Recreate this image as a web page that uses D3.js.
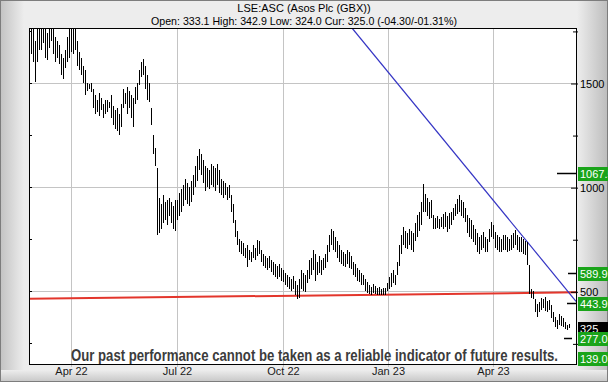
<!DOCTYPE html>
<html lang="en">
<head>
<meta charset="utf-8">
<title>LSE:ASC</title>
<script src="https://cdn.jsdelivr.net/npm/d3@7"></script>
<style>
  body { margin: 0; background: #fff; }
  text { font-family: "Liberation Sans", Arial, sans-serif; }
</style>
</head>
<body>
<script>
// daily high / low, one entry per trading day (bar index 0 .. 269)
var highs = [
  1820,1760,1700,1790,1850, 1800,1780,1760,1740,1790,1810,1760,1720,
  1700,1680,1640,1620,1660, 1720,1770,1800,1780,1800, 1700,1650,1620,1580,
  1560,1500,1495,1500, 1470,1440,1420,1450,1430,1400,1420,
  1420,1410,1440,1390,1370,1380,1350,1400, 1470,1450,1480,1460,1440,1430,
  1480,1500, 1560,1600,1615,1580, 1540,1500, 1380, 1250,1190, 1090,
  950,920,960,930,940,950,930,910,940, 940,970,990, 1010,1040,1020,1000,1030,
  1060,1100,1150,1184,1160, 1130,1100,1090,1080,1110,1100,1090,1110,1080,
  1040,1030,1020,1000,1010, 960,920, 840,790, 750,740,730,710,720,
  700,690,720,710,745,740, 700,680,670,660,670,650, 640,630,620,630,610,600,
  590,580,570,560,575,550,530, 560,600,590,580, 600,650,660,700,680,
  640,670,650,660,680, 720,770,800, 790,760,740,720, 700,690,680,700,690,670,
  640,630,610,600,590,580, 560,545,530,520,535,525, 515,519,510,518,516,
  540,570,590,601,580, 640,720,769, 808,790,780,800, 790,780,830,
  865,880,928, 1014, 966,950,930,940, 865,850,860,845,855, 870,880,860,875,880,
  900,920,942,962, 940,928,900, 865,850,840,820, 798,780,760, 770,784,760,750,
  800,832,820, 784,770,760,750,770, 769,760,750, 770,780,793,770,760,
  760,750,740, 736, 625, 510,500, 461,440, 450,470,465,471,455,460,
  433,400, 375,360,389, 380,370, 351,340,342.9
];
var lows = [
  1640,1600,1505,1600,1660, 1660,1690,1620,1610,1670,1700,1640,1600,
  1620,1590,1540,1520,1570, 1600,1620,1650,1640,1660, 1580,1560,1540,1500,
  1440,1460,1470,1455, 1380,1350,1360,1340,1370,1330,1350,
  1360,1380,1330,1300,1280,1270,1250,1290, 1380,1400,1350,1380,1330,1290,
  1400,1420, 1490,1530,1540,1470, 1420,1410, 1300, 1160,1100, 770,
  780,800,830,840,820,860,830,800,790, 840,860,880, 910,940,920,910,930,
  960,1000,1030,1080,1060, 1020,980,1000,990,1010,1000,980,1010,970,
  960,950,960,940,950, 880,830, 760,720, 690,680,670,660,615,
  650,640,660,650,670,680, 640,620,610,600,610,595, 580,570,560,570,550,545,
  530,520,510,500,510,480,461, 470,510,500,495, 540,560,580,600,550,
  580,590,580,600,610, 640,690,720, 700,690,660,640, 630,620,615,630,610,606,
  580,570,550,545,530,529, 500,490,485,481,490,485, 482,480,484,481,480,
  500,510,520,540,530, 577,620,680, 720,710,702,720, 700,687,740,
  760,790,820, 880, 880,860,846,850, 800,798,805,800,810, 800,810,784,800,820,
  840,860,870,880, 860,850,832, 780,760,750,736, 720,690,678, 700,710,690,687,
  736,760,750, 710,700,690,687,700, 700,690,695, 700,710,720,700,687,
  690,680,673, 625, 486, 470,461, 400,375, 400,410,420,405,399,410,
  370,351, 330,317,340, 335,327, 320,312,324
];

var tickLabels = ["Apr 22", "Jul 22", "Oct 22", "Jan 23", "Apr 23"];
var tickIndex = [20, 73, 126, 178.5, 231];

var priceTicks = [250, 500, 750, 1000, 1250, 1500, 1750];
var priceLabels = [500, 1000, 1500];

// target levels shown in the right margin
var targetValues = [1067.5, 589.9, 443.9, 325.0, 277.0, 139.0];
var targetKinds = ["green", "green", "green", "current", "green", "green"];

// trend lines as [bar index, price]
var blueLine = [[160.5, 1764], [272.5, 452]];
var redLine = [[-1, 464], [273, 495]];

var title = "LSE:ASC (Asos Plc (GBX))";
var quote = "Open: 333.1 High: 342.9 Low: 324.0 Cur: 325.0 (-04.30/-01.31%)";
var disclaimer = "Our past performance cannot be taken as a reliable indicator of future results.";

var w = 608, h = 382;
var plotL = 29, plotR = 577, plotT = 28, plotB = 364;

var svg = d3.select("body").append("svg")
  .attr("width", w).attr("height", h);

var defs = svg.append("defs");
function grad(id, x2, y2, c0, c1) {
  var g = defs.append("linearGradient").attr("id", id)
    .attr("x1", 0).attr("y1", 0).attr("x2", x2).attr("y2", y2);
  g.append("stop").attr("offset", "0%").attr("stop-color", c0);
  g.append("stop").attr("offset", "100%").attr("stop-color", c1);
}
grad("gLeft", 1, 0, "#c2c2c2", "#ededed");
grad("gRight", 1, 0, "#ededed", "#bcbcbc");
grad("gBottom", 0, 1, "#ededed", "#c6c6c6");

// background frame
svg.append("rect").attr("width", w).attr("height", h).attr("fill", "#ededed");
svg.append("rect").attr("x", 0).attr("y", 0).attr("width", 24).attr("height", h).attr("fill", "url(#gLeft)");
svg.append("rect").attr("x", plotR).attr("y", 0).attr("width", w - plotR).attr("height", h).attr("fill", "url(#gRight)");
svg.append("rect").attr("x", 0).attr("y", 370).attr("width", w).attr("height", 12).attr("fill", "url(#gBottom)");
svg.append("rect").attr("x", 0.5).attr("y", 0.5).attr("width", w - 1).attr("height", h - 1)
  .attr("fill", "none").attr("stroke", "#7d7d7d");

// plot area
svg.append("rect").attr("x", plotL).attr("y", plotT)
  .attr("width", plotR - plotL).attr("height", plotB - plotT).attr("fill", "#fff");

var x = d3.scaleLinear().domain([-1, 273]).range([plotL, plotR]);
var y = d3.scaleLinear().domain([151, 1764]).range([plotB, plotT]);

defs.append("clipPath").attr("id", "plot")
  .append("rect").attr("x", plotL).attr("y", plotT)
  .attr("width", plotR - plotL).attr("height", plotB - plotT);

// grid
var grid = svg.append("g");
grid.selectAll("line.h").data(priceLabels).enter().append("line")
  .attr("x1", plotL).attr("x2", plotR)
  .attr("y1", function(d) { return Math.round(y(d)) + 0.5; })
  .attr("y2", function(d) { return Math.round(y(d)) + 0.5; })
  .attr("stroke", "#c4c4c4");
grid.selectAll("line.v").data(tickIndex).enter().append("line")
  .attr("x1", function(d) { return Math.round(x(d)) + 0.5; })
  .attr("x2", function(d) { return Math.round(x(d)) + 0.5; })
  .attr("y1", plotT).attr("y2", plotB + 3)
  .attr("stroke", "#c4c4c4");

// trend lines
var lineGen = d3.line()
  .x(function(d) { return x(d[0]); })
  .y(function(d) { return y(d[1]); });
var trends = svg.append("g").attr("clip-path", "url(#plot)");
trends.append("path").datum(redLine).attr("d", lineGen)
  .attr("fill", "none").attr("stroke", "#e3362c").attr("stroke-width", 2);

// price bars
var data = highs.map(function(hv, i) { return { i: i, high: hv, low: lows[i] }; });
var bars = svg.append("g").attr("clip-path", "url(#plot)");
bars.selectAll("line").data(data).enter().append("line")
  .attr("x1", function(d) { return Math.round(x(d.i)) + 0.5; })
  .attr("x2", function(d) { return Math.round(x(d.i)) + 0.5; })
  .attr("y1", function(d) { return y(d.high); })
  .attr("y2", function(d) { return Math.max(y(d.low), y(d.high) + 1.5); })
  .attr("stroke", "#000").attr("stroke-width", 1)
  .attr("shape-rendering", "crispEdges");

trends.append("path").datum(blueLine).attr("d", lineGen)
  .attr("fill", "none").attr("stroke", "#3434c4").attr("stroke-width", 1.2);

// disclaimer
svg.append("text")
  .attr("x", 71).attr("y", 361)
  .attr("textLength", 487).attr("lengthAdjust", "spacingAndGlyphs")
  .style("font-family", "'Liberation Sans Narrow', 'Liberation Sans', Arial, sans-serif")
  .style("font-weight", "bold").style("font-size", "16px")
  .attr("fill", "#3c3c3c")
  .text(disclaimer);

// plot frame
svg.append("rect").attr("x", plotL + 0.5).attr("y", plotT + 0.5)
  .attr("width", plotR - plotL - 1).attr("height", plotB - plotT)
  .attr("fill", "none").attr("stroke", "#000");

// left ticks
svg.append("g").selectAll("line").data(priceTicks).enter().append("line")
  .attr("x1", plotL).attr("x2", plotL + 3)
  .attr("y1", function(d) { return Math.round(y(d)) + 0.5; })
  .attr("y2", function(d) { return Math.round(y(d)) + 0.5; })
  .attr("stroke", "#000");

// right axis
var yAxis = d3.axisRight(y)
  .tickValues(priceTicks)
  .tickSize(2)
  .tickFormat(function(d) { return priceLabels.indexOf(d) >= 0 ? d : ""; });
var ax = svg.append("g")
  .attr("transform", "translate(" + (plotR - 1) + ",0.5)")
  .call(yAxis);
ax.select(".domain").remove();
ax.selectAll(".tick line")
  .attr("x1", function(d) { return priceLabels.indexOf(d) >= 0 ? -5 : -3; })
  .attr("x2", 2).attr("stroke", "#000");
ax.selectAll(".tick text")
  .attr("x", 4).attr("fill", "#000")
  .style("font-family", "'Liberation Sans', Arial, sans-serif").style("font-size", "11px");

// bottom axis labels
var xAxis = d3.axisBottom(x)
  .tickValues(tickIndex)
  .tickSize(0)
  .tickFormat(function(d, i) { return tickLabels[i]; });
var bx = svg.append("g")
  .attr("transform", "translate(0," + plotB + ")")
  .call(xAxis);
bx.select(".domain").remove();
bx.selectAll(".tick text")
  .attr("y", 3).attr("fill", "#1a1a1a")
  .style("font-family", "'Liberation Sans', Arial, sans-serif").style("font-size", "11px");

// target markers and boxes
var targetLen = [20, 9, 10, 0, 8, 0];
var tg = svg.append("g");
targetValues.forEach(function(v, i) {
  var yy = Math.round(y(v));
  var boxTop = Math.min(yy - 6, plotB - 12);
  if (targetLen[i] > 0) {
    var x2 = v < 300 ? plotR - 5 : plotR;
    tg.append("line").attr("x1", x2 - targetLen[i]).attr("x2", x2)
      .attr("y1", yy + 0.5).attr("y2", yy + 0.5).attr("stroke", "#000").attr("stroke-width", 1.5);
  }
  tg.append("rect").attr("x", plotR + 1).attr("y", boxTop)
    .attr("width", w - plotR - 1).attr("height", 14)
    .attr("fill", targetKinds[i] === "current" ? "#000" : "#1aa41a");
  tg.append("text").attr("x", plotR + 3).attr("y", boxTop + 11)
    .attr("fill", "#fff").style("font-size", "11px")
    .text(targetKinds[i] === "current" ? String(Math.round(v)) : v.toFixed(1));
});

// header
svg.append("text").attr("x", 304).attr("y", 12).attr("text-anchor", "middle")
  .style("font-size", "11px").attr("fill", "#000").text(title);
svg.append("text").attr("x", 304).attr("y", 25).attr("text-anchor", "middle")
  .attr("textLength", 306).attr("lengthAdjust", "spacingAndGlyphs")
  .style("font-size", "11px").attr("fill", "#000").text(quote);
</script>
</body>
</html>
